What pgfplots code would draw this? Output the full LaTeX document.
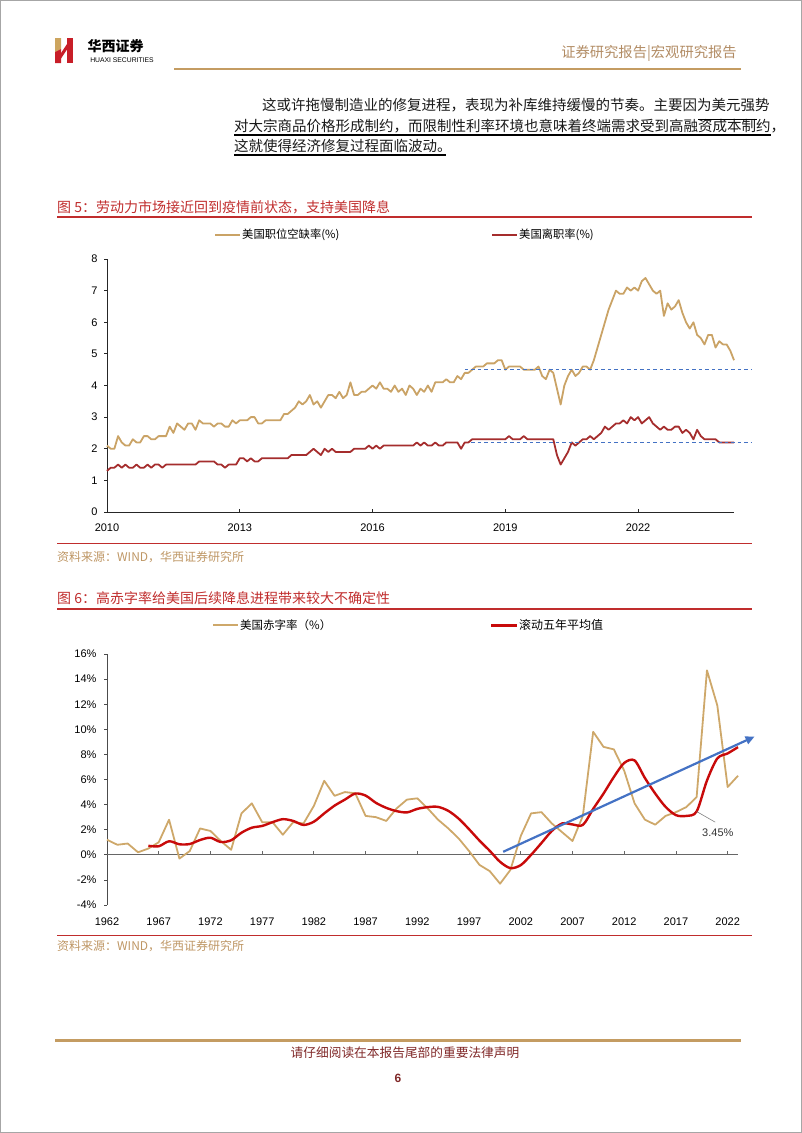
\documentclass[border=0pt]{standalone}
\usepackage{pgfplots}
\pgfplotsset{compat=1.18}
\usepackage{pgfplotstable}
\usepackage{fontspec}
\setmainfont{Liberation Sans}
\newfontfamily\cjk{Noto Sans CJK SC}
\usetikzlibrary{arrows.meta}
\definecolor{jgold}{RGB}{202,163,102}
\definecolor{jred}{RGB}{165,45,45}
\definecolor{dgold}{RGB}{206,168,106}
\definecolor{dred}{RGB}{200,10,10}
\definecolor{tred}{RGB}{192,45,45}
\definecolor{barrow}{RGB}{68,114,196}
\definecolor{tan}{RGB}{196,156,98}
\definecolor{headtan}{RGB}{178,140,100}
\definecolor{footred}{RGB}{128,40,40}
\definecolor{logored}{RGB}{200,30,40}
\definecolor{logogold}{RGB}{205,165,95}
\definecolor{srctan}{RGB}{190,150,100}

\pgfplotstableread{
n open quit
0 2.1 1.3
1 2.0 1.4
2 2.0 1.4
3 2.4 1.5
4 2.2 1.4
5 2.1 1.5
6 2.1 1.4
7 2.3 1.4
8 2.2 1.5
9 2.2 1.4
10 2.4 1.4
11 2.4 1.5
12 2.3 1.4
13 2.3 1.5
14 2.4 1.5
15 2.4 1.4
16 2.4 1.5
17 2.7 1.5
18 2.5 1.5
19 2.8 1.5
20 2.7 1.5
21 2.6 1.5
22 2.8 1.5
23 2.8 1.5
24 2.6 1.5
25 2.9 1.6
26 2.8 1.6
27 2.8 1.6
28 2.8 1.6
29 2.7 1.6
30 2.8 1.5
31 2.8 1.5
32 2.7 1.4
33 2.7 1.5
34 2.9 1.5
35 2.8 1.5
36 2.9 1.7
37 2.9 1.7
38 2.9 1.6
39 3.0 1.7
40 3.0 1.6
41 2.8 1.6
42 2.8 1.7
43 2.9 1.7
44 2.9 1.7
45 2.9 1.7
46 2.9 1.7
47 2.9 1.7
48 3.1 1.7
49 3.1 1.7
50 3.2 1.8
51 3.3 1.8
52 3.5 1.8
53 3.4 1.8
54 3.5 1.8
55 3.7 1.9
56 3.4 2.0
57 3.5 1.9
58 3.3 1.8
59 3.5 2.0
60 3.7 1.9
61 3.7 2.0
62 3.6 1.9
63 3.8 1.9
64 3.6 1.9
65 3.7 1.9
66 4.1 1.9
67 3.7 2.0
68 3.7 2.0
69 3.8 2.0
70 3.8 2.0
71 3.9 2.1
72 4.0 2.0
73 3.9 2.1
74 4.1 2.0
75 3.9 2.1
76 3.9 2.1
77 3.8 2.1
78 4.0 2.1
79 3.8 2.1
80 3.9 2.1
81 3.7 2.1
82 4.0 2.1
83 3.9 2.1
84 3.7 2.2
85 3.9 2.1
86 3.8 2.2
87 4.0 2.1
88 3.8 2.1
89 4.1 2.2
90 4.1 2.1
91 4.1 2.1
92 4.2 2.2
93 4.1 2.2
94 4.1 2.2
95 4.3 2.2
96 4.2 2.0
97 4.4 2.2
98 4.4 2.2
99 4.5 2.3
100 4.6 2.3
101 4.6 2.3
102 4.6 2.3
103 4.7 2.3
104 4.7 2.3
105 4.7 2.3
106 4.8 2.3
107 4.8 2.3
108 4.5 2.3
109 4.6 2.4
110 4.6 2.3
111 4.6 2.3
112 4.6 2.3
113 4.5 2.4
114 4.5 2.3
115 4.5 2.3
116 4.5 2.3
117 4.6 2.3
118 4.3 2.3
119 4.2 2.3
120 4.5 2.3
121 4.4 2.3
122 3.9 1.8
123 3.4 1.5
124 4.0 1.7
125 4.3 1.9
126 4.5 2.2
127 4.3 2.1
128 4.4 2.2
129 4.6 2.3
130 4.6 2.3
131 4.5 2.4
132 4.8 2.3
133 5.2 2.4
134 5.6 2.5
135 6.0 2.7
136 6.4 2.6
137 6.7 2.7
138 7.0 2.8
139 6.9 2.8
140 6.9 2.9
141 7.1 2.8
142 7.0 3.0
143 7.1 2.9
144 7.0 3.0
145 7.3 2.8
146 7.4 2.9
147 7.2 3.0
148 7.0 2.8
149 6.9 2.7
150 7.0 2.6
151 6.2 2.7
152 6.6 2.6
153 6.4 2.6
154 6.5 2.7
155 6.7 2.7
156 6.3 2.5
157 6.0 2.6
158 5.8 2.5
159 6.0 2.3
160 5.6 2.6
161 5.5 2.4
162 5.3 2.3
163 5.6 2.3
164 5.6 2.3
165 5.2 2.3
166 5.4 2.2
167 5.3 2.2
168 5.3 2.2
169 5.1 2.2
170 4.8 2.2
}\jolts

\pgfplotstableread{
year def
1962 1.2
1963 0.8
1964 0.9
1965 0.2
1966 0.5
1967 1.0
1968 2.8
1969 -0.3
1970 0.3
1971 2.1
1972 1.9
1973 1.1
1974 0.4
1975 3.3
1976 4.1
1977 2.6
1978 2.6
1979 1.6
1980 2.6
1981 2.5
1982 3.9
1983 5.9
1984 4.7
1985 5.0
1986 4.9
1987 3.1
1988 3.0
1989 2.7
1990 3.7
1991 4.4
1992 4.5
1993 3.7
1994 2.8
1995 2.1
1996 1.3
1997 0.3
1998 -0.8
1999 -1.3
2000 -2.3
2001 -1.2
2002 1.5
2003 3.3
2004 3.4
2005 2.5
2006 1.8
2007 1.1
2008 3.1
2009 9.8
2010 8.6
2011 8.4
2012 6.7
2013 4.1
2014 2.8
2015 2.4
2016 3.1
2017 3.4
2018 3.8
2019 4.6
2020 14.7
2021 11.9
2022 5.4
2023 6.3
}\deficit

\pgfplotstableread{
year avg
1966 0.72
1967 0.68
1968 1.08
1969 0.84
1970 0.86
1971 1.18
1972 1.36
1973 1.02
1974 1.16
1975 1.76
1976 2.16
1977 2.30
1978 2.60
1979 2.84
1980 2.70
1981 2.38
1982 2.64
1983 3.30
1984 3.92
1985 4.40
1986 4.88
1987 4.72
1988 4.14
1989 3.74
1990 3.48
1991 3.38
1992 3.66
1993 3.80
1994 3.82
1995 3.50
1996 2.88
1997 2.04
1998 1.14
1999 0.32
2000 -0.56
2001 -1.06
2002 -0.82
2003 0.00
2004 0.94
2005 1.90
2006 2.50
2007 2.42
2008 2.38
2009 3.66
2010 4.88
2011 6.20
2012 7.32
2013 7.52
2014 6.12
2015 4.88
2016 3.82
2017 3.16
2018 3.10
2019 3.45
2020 5.92
2021 7.68
2022 8.08
2023 8.58
}\rolling

\begin{document}
\begin{tikzpicture}
\begin{scope}[x=1pt,y=-1pt]
\path (0,0) rectangle (802,1133);
\draw[gray!70, line width=1pt] (0.5,0.5) rectangle (801.5,1132.5);
% logo
\fill[logogold] (55,38) -- (61,38) -- (61,49) -- (55,52) -- cycle;
\fill[logored] (55,52) -- (61,49) -- (61,63) -- (55,63) -- cycle;
\fill[logored] (61,53) -- (67,44) -- (67,49.5) -- (61,58.5) -- cycle;
\fill[logored] (67,38) rectangle (73,63);
\node[inner sep=0] at (115.5,46) {\cjk\bfseries\fontsize{14}{15}\selectfont 华西证券};
\node[inner sep=0] at (122,60.5) {\fontsize{6.8}{8}\selectfont HUAXI SECURITIES};
\node[inner sep=0, text=headtan] at (649,53) {\cjk\fontsize{14.3}{16}\selectfont 证券研究报告|宏观研究报告};
\draw[tan, line width=2pt] (174,69.3) -- (741,69.3);
% body text
\node[anchor=west, inner sep=0, text=black!90] at (262,105.5) {\cjk\fontsize{14.5}{17}\selectfont 这或许拖慢制造业的修复进程，表现为补库维持缓慢的节奏。主要因为美元强势};
\node[anchor=west, inner sep=0, text=black!90] at (234,126) {\cjk\fontsize{14.5}{17}\selectfont 对大宗商品价格形成制约，而限制性利率环境也意味着终端需求受到高融资成本制约，};
\node[anchor=west, inner sep=0, text=black!90] at (234,146) {\cjk\fontsize{14.5}{17}\selectfont 这就使得经济修复过程面临波动。};
\draw[black, line width=1.1pt] (698,119.3) -- (757,119.3);
\draw[black, line width=1.1pt] (234,135) -- (771,135);
\draw[black, line width=1.1pt] (234,155) -- (446,155);
% figure 5 title
\node[anchor=west, inner sep=0, text=tred] at (57,207) {\cjk\fontsize{14}{16}\selectfont 图 5：劳动力市场接近回到疫情前状态，支持美国降息};
\draw[tred, line width=1.5pt] (57,217) -- (752,217);
% legend 1
\draw[jgold, line width=2pt] (215,235) -- (240,235);
\node[anchor=west, inner sep=0] at (242,235) {\cjk\fontsize{11.3}{13}\selectfont 美国职位空缺率(\%)};
\draw[jred, line width=2pt] (492,235) -- (517,235);
\node[anchor=west, inner sep=0] at (519,235) {\cjk\fontsize{11.3}{13}\selectfont 美国离职率(\%)};
% source 1
\draw[tred, line width=1.3pt] (57,543.5) -- (752,543.5);
\node[anchor=west, inner sep=0, text=srctan] at (57,557) {\cjk\fontsize{12}{14}\selectfont 资料来源：WIND，华西证券研究所};
% figure 6 title
\node[anchor=west, inner sep=0, text=tred] at (57,598.5) {\cjk\fontsize{14}{16}\selectfont 图 6：高赤字率给美国后续降息进程带来较大不确定性};
\draw[tred, line width=1.5pt] (57,609) -- (752,609);
% legend 2
\draw[dgold, line width=2pt] (213,625) -- (238,625);
\node[anchor=west, inner sep=0] at (240,625) {\cjk\fontsize{11.5}{13}\selectfont 美国赤字率（\%）};
\draw[dred, line width=3pt] (491,625) -- (517,625);
\node[anchor=west, inner sep=0] at (519,625) {\cjk\fontsize{12}{14}\selectfont 滚动五年平均值};
% source 2
\draw[tred, line width=1.3pt] (57,935.7) -- (752,935.7);
\node[anchor=west, inner sep=0, text=srctan] at (57,946) {\cjk\fontsize{12}{14}\selectfont 资料来源：WIND，华西证券研究所};
% footer
\draw[tan, line width=3pt] (55,1040) -- (741,1040);
\node[inner sep=0, text=footred] at (405,1053) {\cjk\fontsize{12.7}{15}\selectfont 请仔细阅读在本报告尾部的重要法律声明};
\node[inner sep=0, text=footred] at (398,1078) {\bfseries\fontsize{12}{14}\selectfont 6};
\end{scope}

% chart 1
\begin{axis}[
  at={(107pt,-512pt)}, anchor=south west,
  scale only axis, width=627pt, height=253pt,
  xmin=0, xmax=170, ymin=0, ymax=8,
  axis x line*=bottom, axis y line*=left,
  axis line style={draw=black!85, line width=0.9pt, -},
  xtick={0,36,72,108,144}, xticklabels={2010,2013,2016,2019,2022},
  ytick={0,1,...,8},
  xtick align=inside, ytick align=outside,
  major tick length=3pt,
  tick style={black!85, line width=0.8pt},
  /pgf/number format/assume math mode=true,
  tick label style={font=\fontsize{11}{13}\selectfont, text=black},
  x tick label style={yshift=-8pt},
  y tick label style={xshift=-3pt},
  clip=false,
]
\addplot[jgold, line width=1.8pt, line join=round] table[x=n, y=open] {\jolts};
\addplot[jred, line width=1.8pt, line join=round] table[x=n, y=quit] {\jolts};
\addplot[barrow, line width=1.1pt, dash pattern=on 3.5pt off 3pt] coordinates {(97,4.5) (175,4.5)};
\addplot[barrow, line width=1.1pt, dash pattern=on 3.5pt off 3pt] coordinates {(98.7,2.2) (175,2.2)};
\end{axis}

% chart 2
\begin{axis}[
  at={(107pt,-905pt)}, anchor=south west,
  scale only axis, width=631pt, height=251pt,
  xmin=1962, xmax=2023, ymin=-4, ymax=16,
  axis y line*=left, axis x line*=bottom,
  x axis line style={draw=none},
  y axis line style={draw=black!70, line width=0.9pt, -},
  xtick={1962,1967,...,2022},
  xtick style={draw=none},
  ytick={-4,-2,...,16},
  ytick align=outside, major tick length=3pt,
  ytick style={black!70, line width=0.8pt},
  yticklabel={\pgfmathprintnumber{\tick}\%},
  /pgf/number format/assume math mode=true,
  x tick label style={/pgf/number format/1000 sep={}, yshift=-9pt},
  y tick label style={xshift=-4pt},
  tick label style={font=\fontsize{11}{13}\selectfont, text=black},
  clip=false,
]
\draw[black!60, line width=0.9pt] (axis cs:1962,0) -- (axis cs:2023,0);
\pgfplotsinvokeforeach{1967,1972,1977,1982,1987,1992,1997,2002,2007,2012,2017,2022}{
  \draw[black!60, line width=0.8pt] (axis cs:#1,0) -- ++(0pt,4pt);
}
\addplot[dgold, line width=1.8pt, line join=round] table[x=year, y=def] {\deficit};
\addplot[dred, line width=2.4pt, smooth] table[x=year, y=avg] {\rolling};
\addplot[barrow, line width=2.2pt, -{Triangle[length=9pt,width=8pt]}] coordinates {(2000.3,0.24) (2024.6,9.42)};
\draw[gray, line width=0.6pt] (axis cs:2019,3.45) -- (axis cs:2020.8,2.6);
\node[font=\fontsize{11}{13}\selectfont, text=black!80] at (axis cs:2021.05,1.75) {3.45\%};
\end{axis}
\end{tikzpicture}
\end{document}
